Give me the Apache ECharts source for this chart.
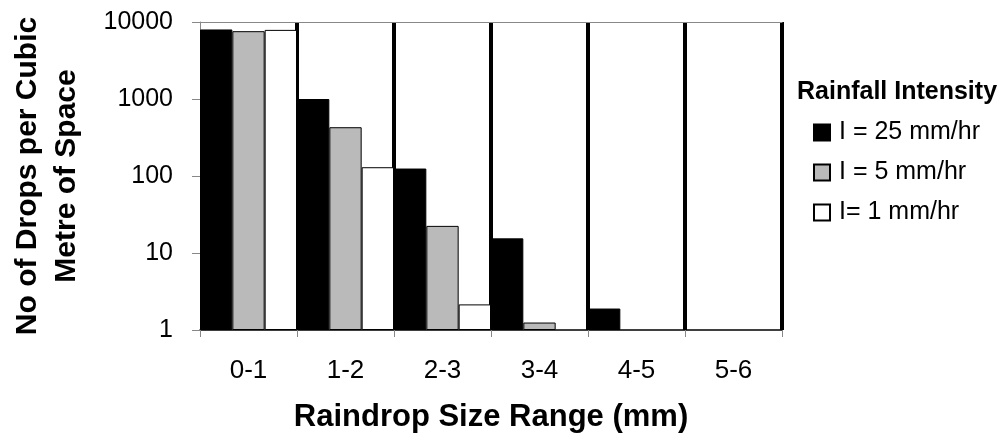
<!DOCTYPE html>
<html>
<head>
<meta charset="utf-8">
<script src="https://cdn.jsdelivr.net/npm/echarts@6/dist/echarts.min.js"></script>
<style>html,body{margin:0;padding:0;background:#fff}#c{width:1007px;height:438px}</style>
</head>
<body>
<div id="c"></div>
<script>
const categories = ['0-1', '1-2', '2-3', '3-4', '4-5', '5-6'];
const seriesNames = ['I = 25 mm/hr', 'I = 5 mm/hr', 'I= 1 mm/hr'];
const heavy = [8000, 1000, 125, 15.5, 1.9, null];
const medium = [7600, 430, 22.5, 1.25, null, null];
const light = [7900, 130, 2.15, null, null, null];
const yTicks = [1, 10, 100, 1000, 10000];

const FONT = "'Liberation Sans', Arial, sans-serif";
const chart = echarts.init(document.getElementById('c'), null, {renderer: 'canvas'});
const barStyle = (fill) => ({color: fill, borderColor: '#000', borderWidth: 1});
chart.setOption({
  backgroundColor: '#fff',
  animation: false,
  title: {
    text: 'Rainfall Intensity', left: 797, top: 80, padding: 0,
    textStyle: {fontFamily: FONT, fontSize: 25, fontWeight: 'bold', color: '#000'}
  },
  legend: {
    data: seriesNames, orient: 'vertical', left: 813, top: 120, padding: 0,
    icon: 'rect', itemWidth: 16, itemHeight: 16, itemGap: 15,
    textStyle: {fontFamily: FONT, fontSize: 25, color: '#000', padding: [0, 0, 0, 4]}
  },
  grid: {left: 193, right: 225, top: 22, bottom: 105, containLabel: false},
  xAxis: [{
    type: 'category', data: categories, boundaryGap: true, position: 'bottom',
    axisLine: {lineStyle: {color: '#000', width: 1.5}},
    axisTick: {show: true, alignWithLabel: false, length: 7, lineStyle: {color: '#888', width: 1}},
    axisLabel: {fontFamily: FONT, fontSize: 26, color: '#000', margin: 28},
    splitLine: {show: true, showMinLine: false, lineStyle: {color: '#000', width: 4}},
    name: 'Raindrop Size Range (mm)', nameLocation: 'middle', nameGap: 72,
    nameTextStyle: {fontFamily: FONT, fontSize: 31, fontWeight: 'bold', color: '#000'}
  }, {
    type: 'category', data: categories, position: 'top',
    axisLine: {lineStyle: {color: '#888', width: 1}},
    axisTick: {show: false}, axisLabel: {show: false}, splitLine: {show: false}
  }],
  yAxis: {
    type: 'log', logBase: 10, min: yTicks[0], max: yTicks[yTicks.length - 1],
    axisLine: {show: true, lineStyle: {color: '#888', width: 1}},
    axisTick: {show: true, length: 8, lineStyle: {color: '#888', width: 1}},
    axisLabel: {fontFamily: FONT, fontSize: 25, color: '#000', margin: 27, formatter: (v) => String(v)},
    splitLine: {show: false},
    minorTick: {show: false},
    name: 'No of Drops per Cubic\nMetre of Space', nameLocation: 'middle', nameGap: 114,
    nameTextStyle: {fontFamily: FONT, fontSize: 30, fontWeight: 'bold', color: '#000', lineHeight: 39}
  },
  series: [
    {name: seriesNames[0], type: 'bar', data: heavy, barGap: '0%', barCategoryGap: '0%', itemStyle: barStyle('#000')},
    {name: seriesNames[1], type: 'bar', data: medium, barGap: '0%', barCategoryGap: '0%', itemStyle: barStyle('#bababa')},
    {name: seriesNames[2], type: 'bar', data: light, barGap: '0%', barCategoryGap: '0%', itemStyle: barStyle('#fff')}
  ]
});
</script>
</body>
</html>
